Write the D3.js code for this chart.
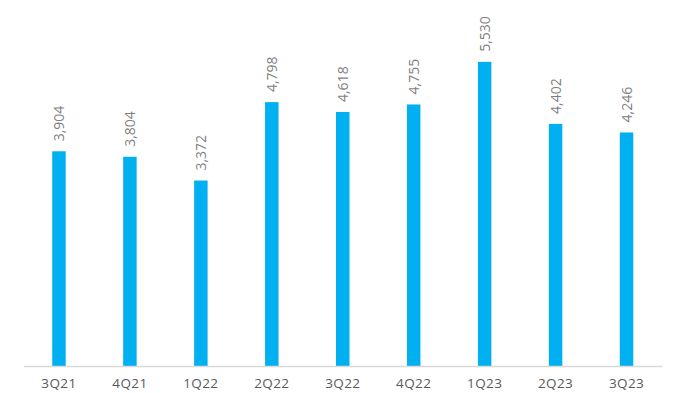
<!DOCTYPE html>
<html>
<head>
<meta charset="utf-8">
<script src="https://cdn.jsdelivr.net/npm/d3@7"></script>
<style>
  body { margin: 0; background: #fff; }
  text { font-family: "Open Sans", sans-serif; }
</style>
</head>
<body>
<div id="chart"></div>
<script>
// dados do gráfico
const quarters = ["3Q21", "4Q21", "1Q22", "2Q22", "3Q22", "4Q22", "1Q23", "2Q23", "3Q23"];
const values = [3904, 3804, 3372, 4798, 4618, 4755, 5530, 4402, 4246];
const yDomain = [0, 6000];

const width = 677, height = 393;
const margin = { top: 36, right: 15, bottom: 27, left: 23.5 };

const svg = d3.select("#chart")
    .append("svg")
    .attr("width", width)
    .attr("height", height);

const x = d3.scaleBand()
    .domain(quarters)
    .range([margin.left, width - margin.right])
    .paddingInner(0.81)
    .paddingOuter(0.405);

const y = d3.scaleLinear()
    .domain(yDomain)
    .range([height - margin.bottom, margin.top]);

// Barras
svg.selectAll("rect.bar")
    .data(values)
    .enter()
    .append("rect")
    .attr("class", "bar")
    .attr("x", (d, i) => x(quarters[i]))
    .attr("y", d => y(d))
    .attr("width", x.bandwidth())
    .attr("height", d => y(0) - y(d))
    .attr("fill", "#00b0f0");

// Eixo X
const xAxis = svg.append("g")
    .attr("transform", `translate(0,${y(0)})`)
    .call(d3.axisBottom(x).tickSize(0).tickPadding(12.5));
xAxis.select(".domain")
    .attr("stroke", "#d9d9d9")
    .attr("stroke-width", 1.3);
xAxis.selectAll("text")
    .attr("fill", "#595959")
    .style("font-size", "13.5px")
    .style("letter-spacing", "0.4px")
    .style("font-family", "'Open Sans', sans-serif");

// Labels com valores
const fmt = d3.format(",");
svg.selectAll("text.value")
    .data(values)
    .enter()
    .append("text")
    .attr("class", "value")
    .attr("transform", (d, i) => {
      const cx = x(quarters[i]) + x.bandwidth() / 2 + 5;
      return `translate(${cx},${y(d) - 10}) rotate(-90)`;
    })
    .attr("fill", "#7f7f7f")
    .style("font-size", "14px")
    .text(d => fmt(d));
</script>
</body>
</html>
